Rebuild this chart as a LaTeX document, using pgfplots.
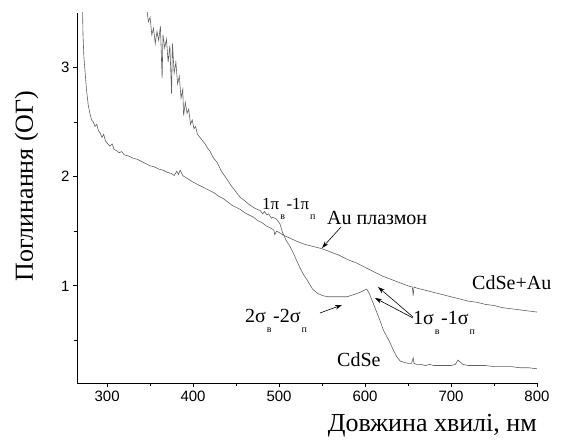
\documentclass[border=0pt]{standalone}
\usepackage{fontspec}
\setmainfont{Liberation Serif}
\newfontfamily\arial{Liberation Sans}
\usepackage{pgfplots}
\pgfplotsset{compat=1.18}
\usetikzlibrary{arrows.meta}

\newcommand{\sub}[1]{\kern1pt\raisebox{-10pt}{\fontsize{10}{10}\selectfont #1}\kern1.5pt}

\begin{document}
\begin{tikzpicture}[x=1pt,y=1pt]
\begin{axis}[scale only axis, width=460pt, height=370pt,
  xmin=265, xmax=800, ymin=0.11, ymax=3.5,
  axis x line=bottom, axis y line=left,
  axis line style={-, line width=0.8pt},
  xtick={300,400,...,800}, minor xtick={350,450,550,650,750},
  ytick={1,2,3}, minor ytick={0.5,1.5,2.5},
  tick align=outside, major tick length=4pt, minor tick length=3pt,
  tick style={black, line width=0.8pt},
  tick label style={font=\arial\fontsize{15}{15}\selectfont},
  /pgf/number format/assume math mode=true]

% CdSe+Au
\addplot[black!62, line width=0.6pt, no markers] coordinates {
(271,3.7)(272,3.3)(273,3.1)(274,3.0)(276,2.80)(278,2.66)(280,2.58)(282,2.52)
(284,2.50)(286,2.46)(288,2.48)(290,2.42)(292,2.40)(294,2.36)(296,2.39)(298,2.33)
(300,2.31)(303,2.28)(306,2.30)(308,2.25)(311,2.24)(314,2.22)(317,2.23)(320,2.20)
(325,2.19)(330,2.17)(335,2.16)(340,2.14)(345,2.12)(350,2.10)(355,2.09)(360,2.07)
(365,2.06)(370,2.04)(375,2.03)(378,2.01)(381,2.05)(383,2.02)(385,2.06)(388,2.01)
(392,1.99)(396,1.97)(400,1.95)(405,1.93)(410,1.91)(415,1.89)(420,1.87)(425,1.85)
(430,1.82)(435,1.80)(440,1.77)(445,1.74)(450,1.72)(455,1.70)(460,1.67)(465,1.65)
(470,1.63)(475,1.60)(480,1.58)(485,1.55)(490,1.53)(494,1.51)(495,1.47)(497,1.50)
(500,1.49)(506,1.46)(512,1.44)(520,1.41)(530,1.38)(540,1.36)(550,1.34)(560,1.31)
(570,1.28)(580,1.24)(590,1.21)(600,1.17)(610,1.13)(620,1.09)(630,1.06)(640,1.03)
(650,1.00)(655,0.99)(656,0.91)(657,0.99)(660,0.98)(670,0.96)(680,0.94)(690,0.92)
(700,0.90)(710,0.88)(720,0.86)(730,0.85)(740,0.83)(750,0.82)(760,0.80)(770,0.79)
(780,0.78)(790,0.77)(800,0.76)};

% CdSe
\addplot[black!62, line width=0.6pt, no markers] coordinates {
(346,3.55)(348,3.42)(350,3.46)(352,3.30)(354,3.36)(356,3.22)(358,3.33)(360,3.25)
(362,3.38)(364,2.90)(365,3.30)(367,3.18)(369,3.26)(371,3.05)(373,3.20)(375,2.76)
(376,3.22)(378,2.95)(380,3.05)(382,2.85)(384,2.92)(386,2.72)(388,2.80)(389,2.56)
(391,2.68)(393,2.58)(395,2.62)(397,2.48)(399,2.52)(401,2.44)(403,2.46)(405,2.39)
(408,2.36)(411,2.33)(414,2.30)(417,2.26)(420,2.23)(423,2.18)(428,2.13)(433,2.05)
(440,1.97)(445,1.91)(450,1.86)(455,1.81)(460,1.78)(466,1.74)(472,1.71)(478,1.69)
(481,1.66)(483,1.68)(486,1.65)(488,1.66)(491,1.62)(493,1.63)(497,1.61)(501,1.57)
(504,1.49)(508,1.42)(512,1.37)(516,1.31)(520,1.24)(524,1.17)(528,1.11)(533,1.05)
(539,0.97)(545,0.93)(551,0.91)(557,0.90)(563,0.90)(570,0.90)(579,0.90)(587,0.92)
(594,0.94)(599,0.96)(602,0.97)(605,0.93)(608,0.87)(611,0.81)(614,0.75)(618,0.67)
(621,0.60)(625,0.54)(629,0.48)(633,0.41)(637,0.35)(641,0.31)(645,0.30)(650,0.29)
(654,0.29)(656,0.34)(657,0.29)(660,0.28)(665,0.28)(670,0.27)(675,0.28)(680,0.27)
(690,0.27)(700,0.27)(705,0.28)(708,0.32)(711,0.30)(714,0.28)(720,0.27)(730,0.27)
(740,0.27)(750,0.26)(760,0.26)(770,0.26)(780,0.25)(790,0.25)(800,0.24)};
\end{axis}

% axis labels
\node[anchor=base east, font=\fontsize{26}{26}\selectfont, inner sep=0pt] at (460,-49) {Довжина хвилі, нм};
\node[rotate=90, font=\fontsize{26}{26}\selectfont, inner sep=0pt] at (-50.5,197) {Поглинання (ОГ)};

% annotations
\begin{scope}[font=\fontsize{20}{20}\selectfont]
\node[anchor=base west, inner sep=0pt] at (250,158) {Au плазмон};
\node[anchor=base west, inner sep=0pt] at (395,93) {CdSe+Au};
\node[anchor=base west, inner sep=0pt] at (260,16) {CdSe};
\node[anchor=base west, inner sep=0pt] at (168,60) {2σ\sub{в}-2σ\sub{п}};
\node[anchor=base west, inner sep=0pt] at (336,58) {1σ\sub{в}-1σ\sub{п}};
\end{scope}
\node[anchor=base west, inner sep=0pt, font=\fontsize{17}{17}\selectfont] at (185,173) {1π\sub{в}-1π\sub{п}};
\begin{scope}[-{Stealth[length=7pt,width=4.5pt]}, line width=0.6pt]
\draw (264,156) -- (245,135);
\draw (243,70) -- (265,78);
\draw (336,66) -- (301,96);
\draw (336,65) -- (298,85);
\end{scope}

\pgfresetboundingbox
\path[use as bounding box] (-77,-63) rectangle (486,383);
\end{tikzpicture}
\end{document}
